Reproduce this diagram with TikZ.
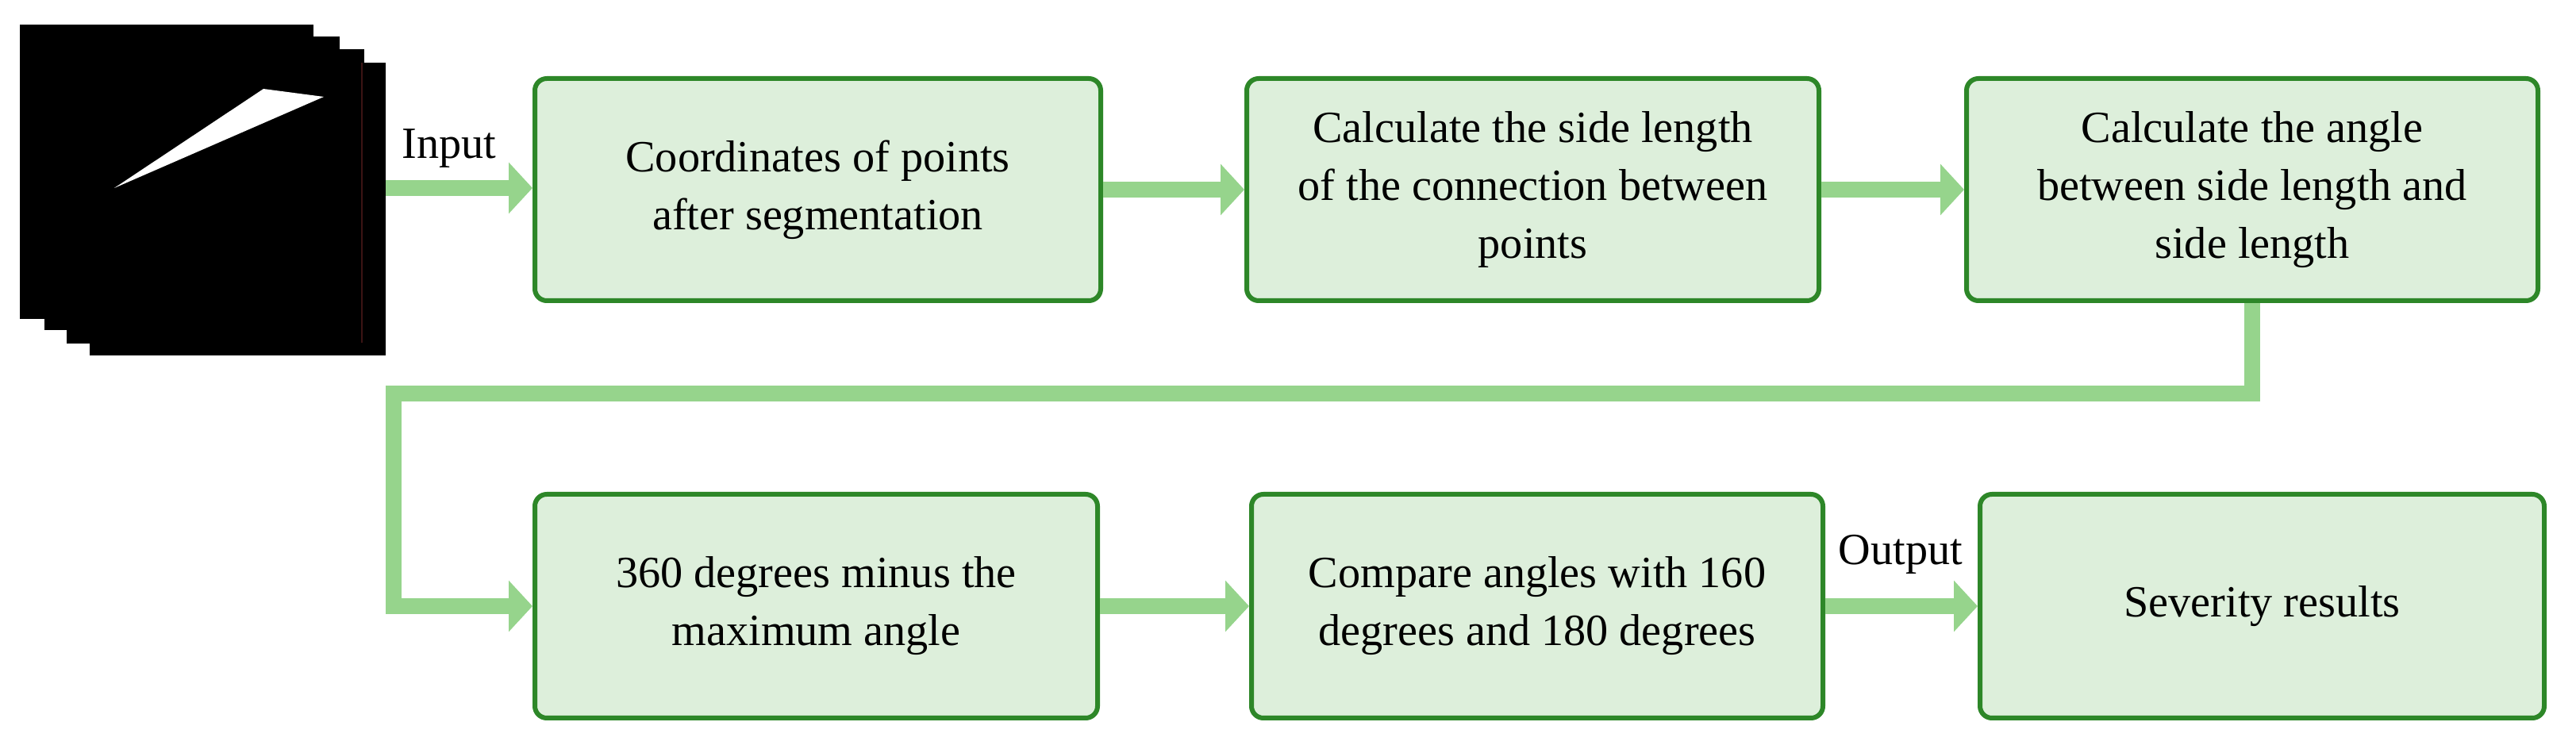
\documentclass[tikz,border=0pt]{standalone}
\usepackage{fontspec}
\setmainfont{Liberation Serif}
\usetikzlibrary{arrows.meta}
\definecolor{boxfill}{RGB}{221,239,219}
\definecolor{boxline}{RGB}{45,135,40}
\definecolor{arr}{RGB}{150,212,140}
\begin{document}
\begin{tikzpicture}[
  box/.style={draw=boxline, line width=0.06cm, fill=boxfill, rounded corners=0.15cm,
    align=center, font=\fontsize{16pt}{20.8pt}\selectfont, inner sep=0pt},
  conn/.style={draw=arr, line width=0.2cm, -{Triangle[length=0.3cm,width=0.63cm]}},
  bar/.style={draw=arr, line width=0.2cm},
  page/.style={fill=black, draw=none},
  lbl/.style={font=\fontsize{16pt}{20.8pt}\selectfont, anchor=base, inner sep=0pt}
]
\useasboundingbox (0,0) rectangle (32.46,-9.39);
% image stack
\fill[page] (0.25,-0.31) rectangle (3.95,-4.02);
\fill[page] (0.56,-0.46) rectangle (4.28,-4.16);
\fill[page] (0.84,-0.62) rectangle (4.59,-4.33);
\fill[page] (1.13,-0.79) rectangle (4.86,-4.48);
\draw[line width=0.4pt, draw={rgb,255:red,60;green,20;blue,20}] (4.56,-0.79) -- (4.56,-4.32);
\fill[white] (3.32,-1.12) -- (4.08,-1.22) -- (1.44,-2.37) -- cycle;
\coordinate (stack) at (4.86,-2.37);
% boxes
\node[box, minimum width=7.13cm, minimum height=2.80cm] (b1) at (10.305,-2.39) {Coordinates of points\\after segmentation};
\node[box, minimum width=7.21cm, minimum height=2.80cm] (b2) at (19.315,-2.39) {Calculate the side length\\of the connection between\\points};
\node[box, minimum width=7.20cm, minimum height=2.80cm] (b3) at (28.38,-2.39) {Calculate the angle\\between side length and\\side length};
\node[box, minimum width=7.09cm, minimum height=2.82cm] (b4) at (10.285,-7.64) {360 degrees minus the\\maximum angle};
\node[box, minimum width=7.20cm, minimum height=2.82cm] (b5) at (19.37,-7.64) {Compare angles with 160\\degrees and 180 degrees};
\node[box, minimum width=7.11cm, minimum height=2.82cm] (b6) at (28.505,-7.64) {Severity results};
% connectors
\draw[conn] (stack) -- (b1.west |- stack);
\draw[conn] (b1.east) -- (b2.west);
\draw[conn] (b2.east) -- (b3.west);
\coordinate (turn) at (4.96,-4.96);
\draw[conn, line join=miter] (b3.south) |- (turn) |- (b4.west);
\draw[conn] (b4.east) -- (b5.west);
\draw[conn] (b5.east) -- (b6.west);
% labels
\node[lbl] (lin) at (5.66,-2.0) {Input};
\node[lbl] (lout) at (23.95,-7.12) {Output};
\end{tikzpicture}
\end{document}
